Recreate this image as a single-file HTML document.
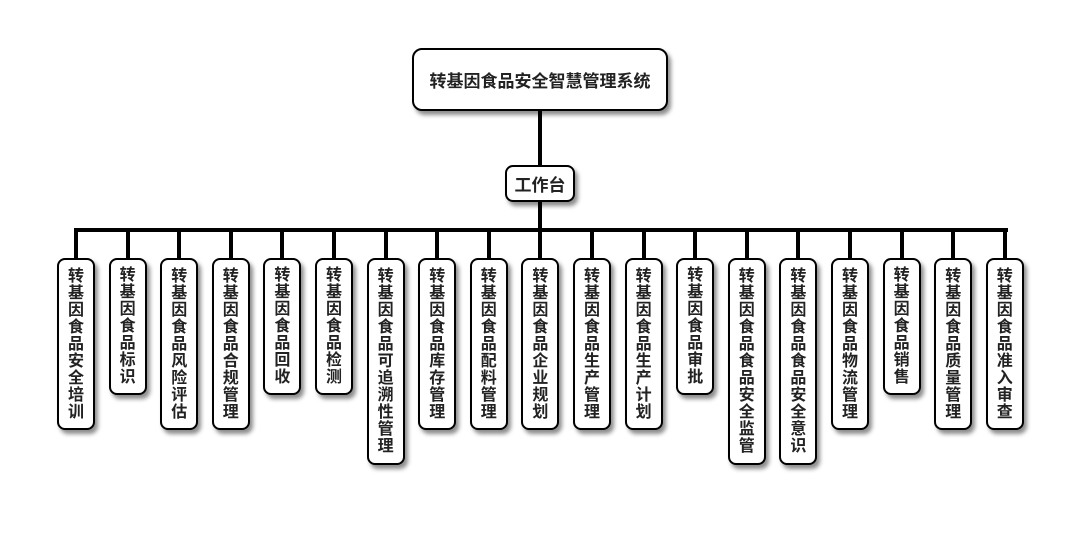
<!DOCTYPE html>
<html><head><meta charset="utf-8"><style>
body{margin:0;width:1080px;height:560px;background:#fff;position:relative;overflow:hidden;font-family:"Liberation Sans","Noto Sans CJK SC",sans-serif;font-weight:bold;color:#222}
.b{position:absolute;background:#fff;border:2px solid #000;border-radius:8px;box-shadow:3px 4px 4px rgba(0,0,0,.45);box-sizing:border-box}
.v{width:38px;top:258px;display:flex;justify-content:center;align-items:center;font-size:16px;line-height:17px;text-align:center;word-break:break-all;padding:0 10px}
.l{position:absolute;background:#000}
</style></head><body>
<div class="b" style="left:412px;top:48px;width:256px;height:63px;display:flex;align-items:center;justify-content:center;font-size:17px;border-radius:10px">转基因食品安全智慧管理系统</div>
<div class="l" style="left:538px;top:111px;width:4px;height:54px"></div>
<div class="b" style="left:505px;top:165px;width:70px;height:37px;display:flex;align-items:center;justify-content:center;font-size:17px">工作台</div>
<div class="l" style="left:538px;top:202px;width:4px;height:28px"></div>
<div class="l" style="left:74px;top:228px;width:934px;height:4px"></div>
<div id="c"></div>
<script>
var t=["转基因食品安全培训","转基因食品标识","转基因食品风险评估","转基因食品合规管理","转基因食品回收","转基因食品检测","转基因食品可追溯性管理","转基因食品库存管理","转基因食品配料管理","转基因食品企业规划","转基因食品生产管理","转基因食品生产计划","转基因食品审批","转基因食品食品安全监管","转基因食品食品安全意识","转基因食品物流管理","转基因食品销售","转基因食品质量管理","转基因食品准入审查"];
var h="";
for(var i=0;i<t.length;i++){var cx=76+i*51.6;var n=t[i].length;var bh=n<=7?137:(n<=9?172:207);
h+='<div class="l" style="left:'+(cx-2)+'px;top:230px;width:4px;height:28px"></div>';
h+='<div class="b v" style="left:'+(cx-19)+'px;height:'+bh+'px">'+t[i]+'</div>';}
document.getElementById("c").innerHTML=h;
</script>
</body></html>
